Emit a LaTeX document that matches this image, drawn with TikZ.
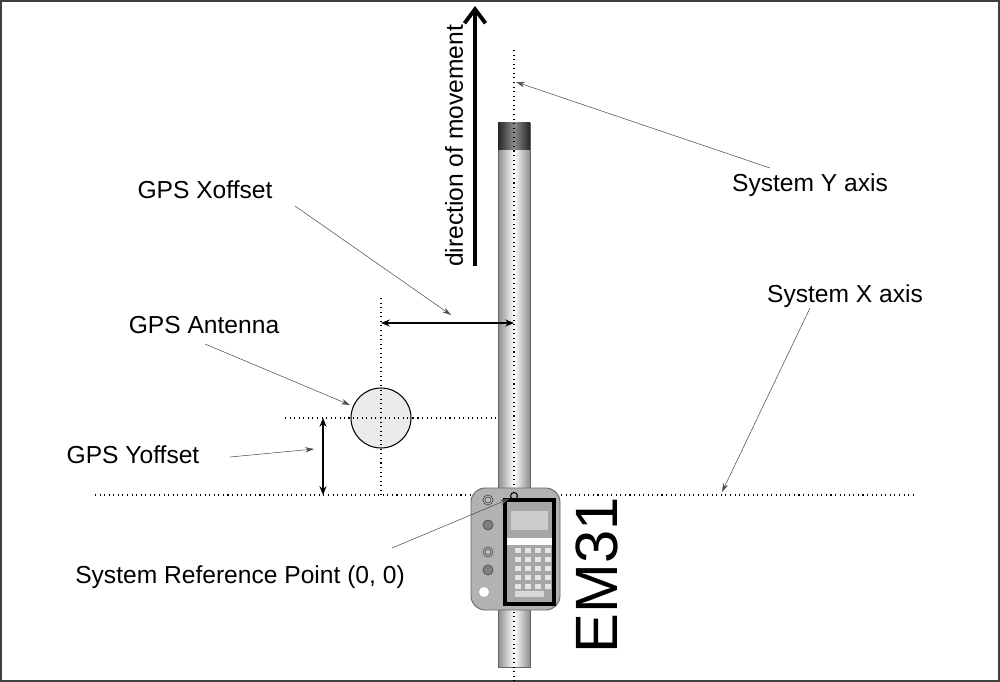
\documentclass[tikz,border=0pt]{standalone}
\usepackage{fontspec}
\setmainfont{Liberation Sans}
\usetikzlibrary{arrows.meta}
\begin{document}
\begin{tikzpicture}[x=0.02cm,y=-0.02cm,
  lbl/.style={font=\fontsize{14}{16}\selectfont,inner sep=0pt},
  lead/.style={draw=black!70,line width=0.3pt,-{Stealth[length=5pt,width=3pt]}},
  dot/.style={draw=black,dotted,line width=0.6pt},
  dim/.style={draw=black,line width=0.8pt,{Stealth[length=5pt,width=4pt]}-{Stealth[length=5pt,width=4pt]}}]
\useasboundingbox (0,0) rectangle (1000,682);
\draw[black!75,line width=1.2pt] (1,1) rectangle (999,681);
% pole
\shade[left color=black!45,right color=black!45,middle color=white] (498,150) rectangle (530,667);
\draw[black!60,line width=0.4pt] (498,123) rectangle (530,667);
\shade[left color=black!85,right color=black!85,middle color=black!45] (498,123) rectangle (530,150);
% axes
\draw[dot] (514,50) -- (514,682);
\draw[dot] (95,495) -- (915,495);
\draw[dot] (381,298) -- (381,495);
\draw[dot] (285,418) -- (497,418);
% antenna
\node[circle,draw=black,line width=0.6pt,fill=black!8,inner sep=0pt,minimum size=1.2cm] (ant) at (381,418) {};
\draw[dot] (381,385) -- (381,451);
\draw[dot] (348,418) -- (414,418);
% dimensions
\coordinate (xa) at (381,323); \coordinate (xb) at (514,323);
\draw[dim] (xa) -- (xb);
\coordinate (ya) at (323,418); \coordinate (yb) at (323,495);
\draw[dim] (ya) -- (yb);
% direction arrow
\coordinate (da) at (475,266); \coordinate (db) at (475,6);
\draw[line width=2.2pt,-{Straight Barb[length=8pt,width=12pt]}] (da) -- (db);
\node[lbl,rotate=90] (dir) at (454,146) {direction of movement};
% EM31
\draw[black!60,fill=black!30,rounded corners=8pt,line width=0.5pt] (471,488) rectangle (560,610);
\fill[white] (484,592) circle (5);
\foreach \yy in {500,552} {\draw[black!70,fill=black!25] (488,\yy) circle (5);\draw[black!70] (488,\yy) circle (3);}
\foreach \yy in {525,570} {\fill[black!50] (488,\yy) circle (5);\draw[black!70] (488,\yy) circle (5);}
\fill[black!35] (505,500) rectangle (554,604);
\fill[white] (505,538) rectangle (554,545);
\fill[black!20] (511,511) rectangle (548,530);
\foreach \i in {0,1,2,3}{\foreach \j in {0,1,2,3,4}{\fill[black!10] (515+\i*10,548+\j*9) rectangle (521+\i*10,553+\j*9);}}
\fill[black!15] (515,591) rectangle (544,597);
\draw[black,line width=2pt] (505,500) rectangle (554,604);
\draw[black,line width=0.6pt] (514,496) circle (3.5);
\node[font=\fontsize{34}{36}\selectfont,rotate=90,inner sep=0pt] (em) at (597,575) {EM31};
% labels
\node[lbl] (xo) at (205,190) {GPS Xoffset};
\node[lbl] (an) at (204,325) {GPS Antenna};
\node[lbl] (yo) at (133,455) {GPS Yoffset};
\node[lbl] (rp) at (240,577) {System Reference Point (0, 0)};
\node[lbl] (sy) at (810,185) {System Y axis};
\node[lbl] (sx) at (845,296) {System X axis};
\coordinate (t1) at (451,315); \coordinate (t2) at (350,405);
\coordinate (t3) at (314,449); \coordinate (t4) at (509,499);
\coordinate (t5) at (516,82); \coordinate (t6) at (722,492);
\draw[lead] (295,206) -- (t1);
\draw[lead] (205,344) -- (t2);
\draw[lead] (230,457) -- (t3);
\draw[lead] (392,548) -- (t4);
\draw[lead] (770,168) -- (t5);
\draw[lead] (810,308) -- (t6);
\end{tikzpicture}
\end{document}
